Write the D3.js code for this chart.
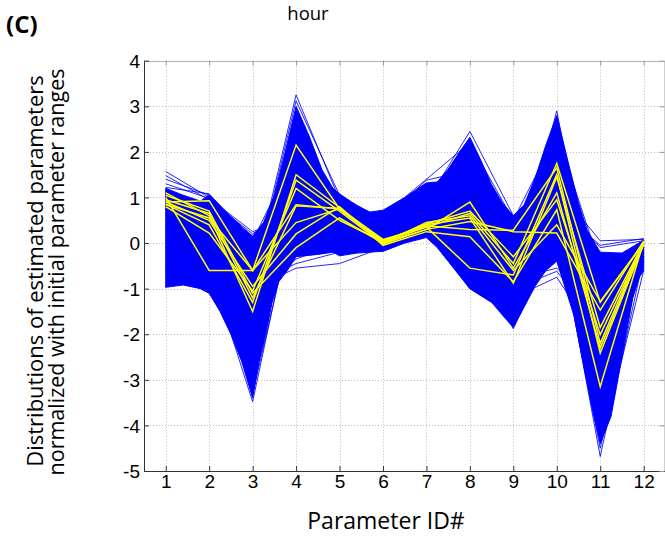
<!DOCTYPE html>
<html>
<head>
<meta charset="utf-8">
<script src="https://cdn.jsdelivr.net/npm/d3@7/dist/d3.min.js"></script>
<style>
  body { margin: 0; background: #fff; }
  svg { display: block; }
</style>
</head>
<body>
<svg id="chart" width="665" height="537"></svg>
<script>
// Parameter IDs along the x axis and value ticks along the y axis
const paramIds = [1, 2, 3, 4, 5, 6, 7, 8, 9, 10, 11, 12];
const yTicks = [-5, -4, -3, -2, -1, 0, 1, 2, 3, 4];

// Dense core of the blue ensemble: upper and lower boundary, [parameter, value]
const bandTop = [
  [1, 1.20], [1.4, 1.05], [1.8, 0.92], [2, 1.06], [2.5, 0.58], [2.8, 0.30], [3, 0.15],
  [3.25, 0.45], [3.5, 1.05], [3.75, 2.0], [4, 3.0], [4.3, 2.35], [4.6, 1.6], [4.85, 1.2],
  [5, 1.08], [5.4, 0.82], [5.7, 0.68], [6, 0.72], [6.5, 1.0], [7, 1.32], [7.25, 1.34],
  [7.5, 1.62], [7.75, 1.98], [8, 2.32], [8.25, 1.82], [8.5, 1.28], [8.75, 0.88], [9, 0.60],
  [9.25, 0.84], [9.5, 1.42], [9.75, 2.15], [10, 2.80], [10.25, 1.82], [10.5, 0.88],
  [10.7, 0.28], [11, -0.20], [11.5, -0.22], [12, 0.06]
];
const bandBottom = [
  [1, -0.97], [1.4, -0.92], [1.8, -1.0], [2, -1.1], [2.25, -1.5], [2.5, -2.0], [2.75, -2.6],
  [3, -3.40], [3.15, -2.6], [3.3, -2.0], [3.45, -1.3], [3.6, -0.85], [3.8, -0.6], [4, -0.3],
  [4.5, -0.25], [4.85, -0.2], [5, -0.28], [5.4, -0.22], [6, -0.18], [6.5, 0.0], [7, 0.12],
  [7.25, -0.1], [7.5, -0.4], [8, -1.0], [8.5, -1.3], [8.75, -1.58], [9, -1.85], [9.25, -1.4],
  [9.5, -0.95], [9.75, -0.6], [10, -0.4], [10.2, -1.0], [10.4, -1.6], [10.6, -2.6],
  [10.8, -3.55], [11, -4.40], [11.25, -3.8], [11.5, -2.5], [11.75, -1.2], [11.9, -0.75],
  [12, -0.6]
];

// Individual blue runs (values for parameters 1..12)
const blueRuns = [
  [1.57, 1.00, 0.15, 1.10, 0.80, 0.40, 0.90, 1.20, 0.20, 1.30, -0.60, 0.00],
  [1.48, 0.95, 0.20, 0.90, 0.60, 0.30, 0.70, 1.00, 0.00, 1.10, -0.90, 0.05],
  [1.40, 1.05, 0.10, 1.40, 0.70, 0.20, 0.60, 0.80, -0.20, 1.60, -1.20, -0.05],
  [1.30, 0.98, 0.25, 0.60, 0.50, 0.35, 0.80, 1.40, 0.40, 0.90, -0.70, 0.08],
  [1.22, 1.08, 0.05, 2.00, 0.90, 0.50, 1.10, 0.90, -0.30, 2.00, -1.50, -0.10],
  [0.30, -0.20, -0.80, 3.25, 0.95, 0.40, 0.90, 1.60, 0.30, 1.80, -1.00, 0.00],
  [0.10, -0.40, -0.90, 3.12, 1.05, 0.50, 1.00, 1.40, 0.10, 2.10, -1.30, -0.10],
  [-0.50, 0.20, -1.00, -0.55, -0.45, -0.10, 0.30, 0.10, -0.80, 0.50, -2.00, -0.30],
  [-0.30, 0.40, -0.90, -0.45, -0.20, 0.00, 0.40, -0.20, -1.00, 0.30, -2.50, -0.20],
  [-0.70, 0.00, -1.20, -0.35, 0.00, 0.10, 0.50, 0.20, -0.60, 0.80, -1.80, -0.40],
  [0.50, 0.40, -0.50, 0.80, 0.60, 0.40, 0.90, 2.45, 0.60, 1.50, -0.80, 0.00],
  [0.60, 0.30, -0.40, 1.00, 0.70, 0.50, 1.38, 1.60, 0.40, 1.20, -1.00, 0.05],
  [0.40, 0.50, -0.60, 1.20, 0.80, 0.60, 1.40, 2.20, 0.50, 2.40, -0.50, -0.05],
  [0.20, 0.10, -1.50, 1.80, 0.60, 0.30, 0.70, 0.00, -0.70, 2.90, -2.00, -0.20],
  [0.00, -0.50, -2.00, 0.50, 0.20, 0.00, 0.30, -0.60, -1.20, -0.75, -2.20, -0.30],
  [0.20, -0.30, -1.80, 0.70, 0.30, 0.10, 0.20, -0.40, -1.00, -0.62, -1.80, -0.20],
  [0.40, -0.20, -1.60, 0.90, 0.40, 0.20, 0.40, -0.30, -0.80, -0.55, -1.50, -0.10],
  [0.60, 0.20, -0.90, 1.20, 0.80, 0.40, 0.60, 0.50, 0.10, 1.20, 0.05, 0.08],
  [0.80, 0.50, -0.70, 1.00, 0.70, 0.30, 0.50, 0.40, 0.00, 1.00, -0.10, 0.05],
  [0.70, 0.40, -0.80, 0.90, 0.60, 0.20, 0.50, 0.60, 0.20, 0.80, -0.05, 0.10],
  [-0.97, -0.50, -3.48, 1.00, 0.40, 0.20, 0.60, 0.50, -0.50, 1.00, -3.00, -0.30],
  [-0.90, -0.40, -3.30, 0.80, 0.30, 0.10, 0.50, -0.20, -1.88, 0.20, -3.50, -0.40],
  [-0.50, -0.80, -2.50, 0.60, 0.20, 0.00, 0.30, -1.00, -1.60, 0.48, -4.68, -0.32],
  [-0.60, -1.10, -2.20, 0.40, 0.10, -0.18, 0.20, -0.80, -1.50, 0.30, -4.50, -0.60]
];

// Highlighted (yellow) runs
const yellowRuns = [
  [0.90, 0.93, -0.60, 2.15, 0.75, 0.02, 0.35, 0.65, -0.45, 1.75, -1.30, 0.00],
  [1.10, 0.60, -1.50, 1.50, 0.78, 0.05, 0.40, 0.55, -0.88, 1.45, -1.85, 0.02],
  [0.85, 0.40, -1.30, 1.38, 0.70, -0.02, 0.30, 0.90, -0.55, 1.10, -2.30, -0.03],
  [1.00, -0.60, -0.60, 0.45, 0.75, 0.00, 0.30, 0.47, 0.25, 0.22, -1.47, 0.05],
  [0.80, 0.22, -1.05, 1.20, 0.50, 0.03, 0.42, 0.70, -0.30, 0.95, -2.01, 0.00],
  [0.95, 0.65, -1.20, 0.82, 0.76, 0.08, 0.35, -0.55, -0.70, 1.50, -2.41, -0.02],
  [0.90, 0.50, -0.95, 0.20, 0.80, -0.05, 0.25, 0.14, -0.85, 0.73, -3.15, 0.03],
  [1.05, 0.70, -1.10, -0.10, 0.55, 0.00, 0.45, 0.60, -0.60, 0.40, -1.28, 0.00],
  [0.85, 0.55, -0.60, 0.84, 0.75, 0.05, 0.38, 0.30, 0.28, 1.65, -2.20, 0.02]
];

const svg = d3.select("#chart");
const x = d3.scaleLinear().domain([0.5, 12.5]).range([144, 665.4]);
const y = d3.scaleLinear().domain([-5, 4]).range([471, 60.7]);
const plotLeft = x.range()[0], plotRight = x.range()[1];
const plotTop = y.range()[1], plotBottom = y.range()[0];

// Dotted grid
const grid = svg.append("g").attr("stroke", "#bdbdbd").attr("stroke-dasharray", "1,2").attr("stroke-width", 1);
paramIds.forEach(p => grid.append("line")
  .attr("x1", Math.round(x(p)) + 0.5).attr("x2", Math.round(x(p)) + 0.5)
  .attr("y1", plotTop).attr("y2", plotBottom));
yTicks.forEach(v => grid.append("line")
  .attr("x1", plotLeft).attr("x2", plotRight)
  .attr("y1", Math.round(y(v)) + 0.5).attr("y2", Math.round(y(v)) + 0.5));

// Blue ensemble
const runLine = d3.line().x((d, i) => x(paramIds[i])).y(d => y(d));
const edgeLine = d3.line().x(d => x(d[0])).y(d => y(d[1]));
svg.append("path")
  .attr("d", edgeLine(bandTop.concat(bandBottom.slice().reverse())) + "Z")
  .attr("fill", "#0000ff").attr("stroke", "#0000ff").attr("stroke-width", 1);
svg.append("g").selectAll("path").data(blueRuns).join("path")
  .attr("d", runLine).attr("fill", "none")
  .attr("stroke", "#0000ff").attr("stroke-width", 1).attr("stroke-opacity", 0.85);

// Yellow runs on top
svg.append("g").selectAll("path").data(yellowRuns).join("path")
  .attr("d", runLine).attr("fill", "none")
  .attr("stroke", "#ffff00").attr("stroke-width", 1.5).attr("stroke-linejoin", "miter");

// Axes box
const axisColor = "#333";
svg.append("line").attr("x1", plotLeft + 0.5).attr("x2", plotLeft + 0.5).attr("y1", plotTop).attr("y2", plotBottom + 0.5).attr("stroke", axisColor);
svg.append("line").attr("x1", plotLeft).attr("x2", plotRight).attr("y1", plotBottom + 0.5).attr("y2", plotBottom + 0.5).attr("stroke", axisColor);
svg.append("line").attr("x1", plotLeft).attr("x2", plotRight).attr("y1", Math.round(plotTop) + 0.5).attr("y2", Math.round(plotTop) + 0.5).attr("stroke", "#b0b0b0");
svg.append("line").attr("x1", plotRight - 0.5).attr("x2", plotRight - 0.5).attr("y1", plotTop).attr("y2", plotBottom).attr("stroke", "#b0b0b0");

// Axes with inward ticks; labels use a plain hyphen for negatives
const tickText = d => String(d);
const xAxis = d3.axisBottom(x).tickValues(paramIds).tickSize(-5).tickPadding(3).tickFormat(tickText);
const gx = svg.append("g").attr("transform", `translate(0,${plotBottom})`).call(xAxis);
const yAxis = d3.axisLeft(y).tickValues(yTicks).tickSize(-5).tickPadding(4).tickFormat(tickText);
const gy = svg.append("g").attr("transform", `translate(${plotLeft},0)`).call(yAxis);
[gx, gy].forEach(g => {
  g.select(".domain").remove();
  g.selectAll(".tick line").attr("stroke", axisColor);
  g.selectAll("text").attr("fill", "#000")
    .style("font-family", "'Liberation Sans', Arial, sans-serif").style("font-size", "19px");
});
gy.selectAll(".tick text").attr("dy", "0.35em");
// Top and right tick marks
const gt = svg.append("g").attr("transform", `translate(0,${plotTop})`).call(d3.axisTop(x).tickValues(paramIds).tickSize(-5).tickFormat(""));
gt.select(".domain").remove(); gt.selectAll(".tick line").attr("stroke", "#999");
const gr = svg.append("g").attr("transform", `translate(${plotRight - 1},0)`).call(d3.axisRight(y).tickValues(yTicks).tickSize(-5).tickFormat(""));
gr.select(".domain").remove(); gr.selectAll(".tick line").attr("stroke", "#999");

// Texts
const font = "'Open Sans', 'Noto Sans', sans-serif";
svg.append("text").attr("x", 308).attr("y", 20).attr("text-anchor", "middle")
  .style("font-family", font).style("font-size", "18.5px").text("hour");
svg.append("text").attr("x", 6).attr("y", 33)
  .style("font-family", font).style("font-size", "24px").style("font-weight", "bold").text("(C)");
svg.append("text").attr("x", 386).attr("y", 529).attr("text-anchor", "middle")
  .style("font-family", font).style("font-size", "23px").text("Parameter ID#");
svg.append("text").attr("transform", "translate(43,271) rotate(-90)").attr("text-anchor", "middle")
  .style("font-family", font).style("font-size", "22px").text("Distributions of estimated parameters");
svg.append("text").attr("transform", "translate(64,272) rotate(-90)").attr("text-anchor", "middle")
  .style("font-family", font).style("font-size", "21.5px").text("normalized with initial parameter ranges");
</script>
</body>
</html>
